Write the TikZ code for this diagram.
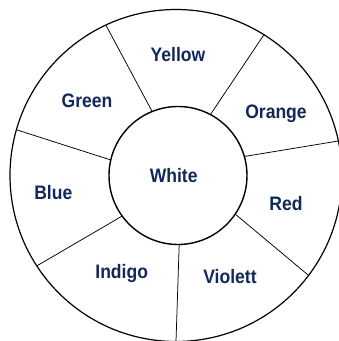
\documentclass[tikz,border=0pt]{standalone}
\usepackage{fontspec}
\setmainfont[FakeStretch=0.9]{Liberation Sans}
\definecolor{navy}{RGB}{16,40,90}
\begin{document}
\begin{tikzpicture}[x=1pt,y=1pt,
  ring/.style={circle,draw=black,inner sep=0pt,outer sep=0pt},
  spoke/.style={draw=black,line width=0.75pt},
  lbl/.style={text=navy,font=\fontsize{19.5}{22}\selectfont\bfseries,inner sep=0pt}]
\clip (0,0) rectangle (339,341);
\fill[white] (0,0) rectangle (339,341);
\node[ring,line width=1.2pt,minimum size=332pt] (outer) at (176,165.5) {};
\node[ring,line width=1.4pt,minimum size=138pt] (W) at (178,165.5) {};
\draw[spoke] (W.112.2) -- (outer.115.3);
\draw[spoke] (W.62.3) -- (outer.58.6);
\draw[spoke] (W.16.2) -- (outer.12.3);
\draw[spoke] (W.-34) -- (outer.-37.8);
\draw[spoke] (W.-89.8) -- (outer.-90.3);
\draw[spoke] (W.216.9) -- (outer.213.4);
\draw[spoke] (W.167.7) -- (outer.164.1);
\node[lbl] (white) at (173.7,165.3) {White};
\node[lbl] (yellow) at (178,286.5) {Yellow};
\node[lbl] (green) at (87,240.3) {Green};
\node[lbl] (orange) at (276,227) {Orange};
\node[lbl] (blue) at (53.3,148.3) {Blue};
\node[lbl] (red) at (286,137) {Red};
\node[lbl] (indigo) at (121.7,67) {Indigo};
\node[lbl] (violett) at (230,64.3) {Violett};
\end{tikzpicture}
\end{document}
